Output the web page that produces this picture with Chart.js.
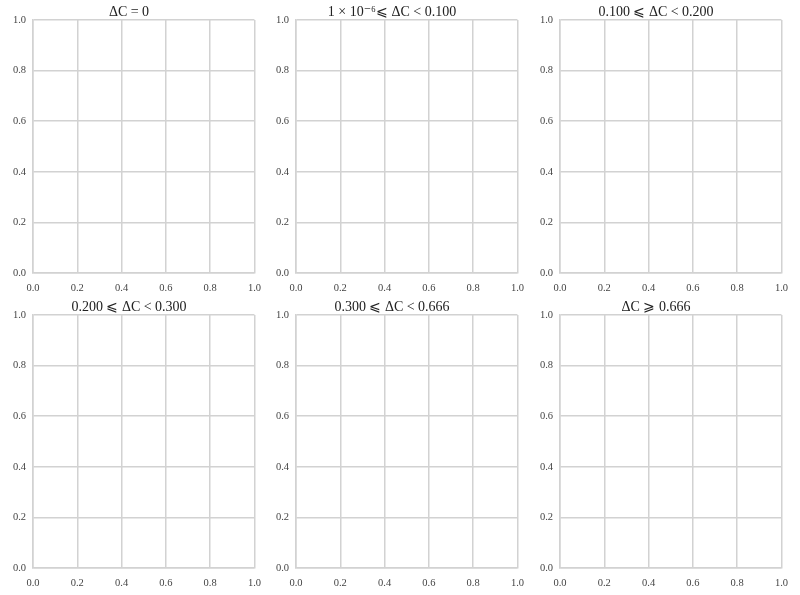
<!DOCTYPE html>
<html>
<head>
<meta charset="utf-8">
<script src="https://cdn.jsdelivr.net/npm/chart.js@4/dist/chart.umd.min.js"></script>
<style>
  body { margin: 0; background: #fff; }
  #wrap { position: relative; width: 800px; height: 595px; }
  canvas { position: absolute; }
</style>
</head>
<body>
<div id="wrap"></div>
<script>
// panel titles, row by row
const titles = [
  "ΔC = 0",
  "1 × 10⁻⁶⩽ ΔC < 0.100",
  "0.100 ⩽ ΔC < 0.200",
  "0.200 ⩽ ΔC < 0.300",
  "0.300 ⩽ ΔC < 0.666",
  "ΔC ⩾ 0.666"
]
// every panel is empty, nothing plotted
const panelPoints = [[], [], [], [], [], []]
const axisMin = 0
const axisMax = 1
const axisStep = 0.2

const plotLefts = [33, 296, 560]
const plotTops = [20, 315]
const plotW = 221
const plotH = 253
const gridCol = "#d2d2d2"
const tickCol = "#444"
const serif = "'Liberation Serif', 'DejaVu Serif', serif"

const wrap = document.getElementById("wrap")

function axis(isX) {
  return {
    type: "linear",
    min: axisMin,
    max: axisMax,
    grid: { color: gridCol, lineWidth: 1.5, drawTicks: false },
    border: { color: gridCol, width: 1.5 },
    ticks: {
      stepSize: axisStep,
      padding: isX ? 9 : 7,
      color: tickCol,
      font: { family: serif, size: 10.5 },
      callback: v => v.toFixed(1)
    },
    afterFit: s => {
      if (isX) s.height = 21
      else s.width = 33
    }
  }
}

titles.forEach((t, i) => {
  const c = document.createElement("canvas")
  const col = i % 3
  const row = Math.floor(i / 3)
  c.width = 33 + plotW + 16
  c.height = 20 + plotH + 21 + 2
  c.style.left = (plotLefts[col] - 33) + "px"
  c.style.top = (plotTops[row] - 20) + "px"
  wrap.appendChild(c)

  new Chart(c, {
    type: "scatter",
    data: { datasets: [{ data: panelPoints[i] }] },
    options: {
      responsive: false,
      animation: false,
      layout: { padding: { right: 12, bottom: 2 } },
      plugins: {
        legend: { display: false },
        tooltip: { enabled: false },
        title: {
          display: true,
          text: t,
          color: "#222",
          font: { family: serif, size: 14, weight: "normal", lineHeight: 1 },
          padding: { top: 5, bottom: 1 }
        }
      },
      scales: { x: axis(true), y: axis(false) }
    }
  })
})
</script>
</body>
</html>
